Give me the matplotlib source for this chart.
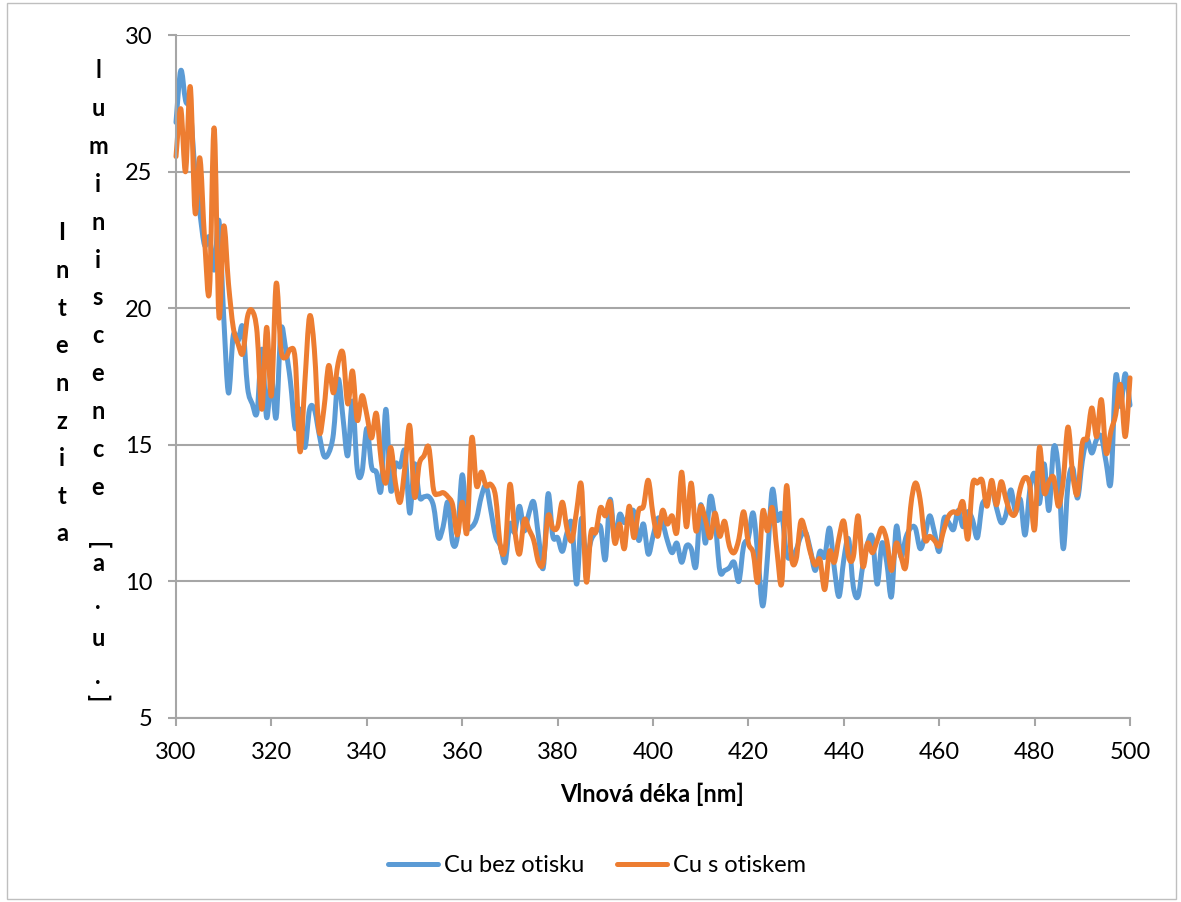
import numpy as np
import matplotlib
matplotlib.use("Agg")
import matplotlib.pyplot as plt
from matplotlib.path import Path
from matplotlib.patches import PathPatch, Rectangle
from matplotlib.lines import Line2D

# ---- data -------------------------------------------------------------
wavelength = list(range(300, 501))

cu_bez_otisku = [
    26.8, 28.7, 27.6, 27.2, 25.0, 23.5, 22.3, 22.6, 21.4, 23.2,   # 300-309
    19.7, 16.9, 19.0, 18.8, 19.3, 17.1, 16.5, 16.2, 18.5, 16.0,   # 310-319
    17.5, 16.0, 19.2, 18.5, 17.3, 15.6, 16.3, 14.9, 16.3, 16.3,   # 320-329
    15.4, 14.6, 14.7, 15.4, 17.4, 16.0, 14.6, 16.6, 14.1, 14.0,   # 330-339
    15.6, 14.2, 14.0, 13.35, 16.3, 13.35, 14.3, 14.2, 14.75, 12.5,  # 340-349
    14.3, 13.1, 13.1, 13.1, 12.75, 11.6, 12.0, 12.9, 11.4, 11.65,  # 350-359
    13.9, 12.1, 12.0, 12.3, 13.1, 13.5, 12.6, 11.65, 11.3, 10.7,   # 360-369
    12.1, 11.8, 12.75, 11.85, 12.5, 12.9, 11.65, 10.5, 13.2, 11.65,  # 370-379
    11.6, 11.1, 11.8, 12.1, 9.9, 12.3, 10.8, 11.5, 11.8, 12.0,     # 380-389
    10.8, 13.0, 11.5, 12.45, 12.15, 12.45, 12.55, 11.5, 12.1, 11.0,  # 390-399
    11.65, 12.3, 12.15, 11.5, 11.05, 11.4, 10.7, 11.3, 11.2, 10.55,  # 400-409
    12.8, 11.4, 13.1, 12.25, 10.4, 10.4, 10.5, 10.7, 10.0, 11.3,   # 410-419
    11.6, 12.5, 10.9, 9.1, 10.9, 13.35, 12.25, 12.45, 11.0, 10.9,  # 420-429
    11.15, 11.65, 11.8, 11.15, 10.4, 11.1, 10.9, 11.95, 10.5, 9.45,  # 430-439
    10.8, 11.55, 9.8, 9.45, 10.6, 11.4, 11.6, 9.9, 11.4, 10.7,     # 440-449
    9.45, 12.0, 10.9, 11.6, 11.95, 11.95, 11.2, 11.65, 12.4, 11.8,  # 450-459
    11.1, 12.3, 12.15, 11.9, 12.6, 12.0, 12.55, 12.25, 11.6, 12.8,  # 460-469
    13.0, 13.4, 12.7, 12.15, 12.45, 13.35, 12.55, 13.0, 11.7, 13.35,  # 470-479
    13.95, 12.85, 14.3, 12.6, 14.9, 14.1, 11.2, 13.55, 14.15, 13.05,  # 480-489
    14.4, 15.2, 14.7, 15.2, 15.3, 14.35, 13.65, 17.5, 16.4, 17.6,  # 490-499
    16.45,                                                         # 500
]

cu_s_otiskem = [
    25.55, 27.3, 25.0, 28.1, 23.5, 25.5, 22.5, 20.6, 26.6, 19.7,   # 300-309
    23.0, 20.9, 19.3, 18.7, 18.35, 19.7, 19.9, 19.1, 16.3, 19.3,   # 310-319
    16.8, 20.9, 18.5, 18.2, 18.5, 18.1, 14.75, 17.25, 19.7, 18.5,  # 320-329
    15.5, 16.3, 17.9, 16.9, 18.0, 18.35, 16.5, 17.7, 15.9, 16.8,   # 330-339
    16.1, 15.25, 16.15, 14.45, 13.6, 14.9, 13.6, 12.9, 14.2, 15.7,  # 340-349
    13.1, 14.3, 14.6, 14.9, 13.35, 13.2, 13.25, 13.1, 12.8, 11.7,  # 350-359
    12.9, 11.8, 15.25, 13.5, 14.0, 13.5, 13.55, 13.1, 11.3, 11.2,  # 360-369
    13.55, 11.9, 11.0, 12.25, 11.9, 11.5, 10.7, 10.7, 12.4, 11.95,  # 370-379
    12.0, 12.9, 11.9, 11.5, 12.6, 13.5, 10.0, 11.8, 11.8, 12.7,    # 380-389
    12.4, 12.9, 11.4, 12.1, 11.2, 12.75, 11.6, 12.6, 12.75, 13.7,  # 390-399
    12.45, 11.65, 12.6, 12.1, 12.4, 11.8, 14.0, 12.0, 13.6, 11.85,  # 400-409
    12.75, 12.25, 11.6, 12.5, 11.65, 12.2, 11.3, 11.05, 11.55, 12.55,  # 410-419
    11.4, 11.05, 10.0, 12.55, 11.85, 12.7, 11.1, 9.95, 13.5, 10.9,  # 420-429
    10.8, 12.2, 11.8, 11.05, 10.6, 10.8, 9.7, 11.1, 10.7, 11.6,    # 430-439
    12.2, 10.9, 10.9, 12.4, 10.55, 11.4, 11.05, 11.5, 11.95, 11.5,  # 440-449
    10.4, 11.4, 10.9, 10.55, 12.7, 13.6, 13.0, 11.55, 11.65, 11.5,  # 450-459
    11.3, 11.9, 12.4, 12.55, 12.5, 12.9, 11.55, 13.55, 13.6, 13.7,  # 460-469
    12.75, 13.7, 12.8, 13.65, 13.0, 12.5, 12.5, 13.4, 13.8, 13.5,  # 470-479
    11.9, 14.9, 13.25, 13.65, 13.8, 12.75, 13.7, 15.65, 13.9, 13.2,  # 480-489
    15.05, 15.25, 16.35, 15.3, 16.65, 14.7, 15.5, 16.1, 17.2, 15.3,  # 490-499
    17.45,                                                         # 500
]

series_names = ["Cu bez otisku", "Cu s otiskem"]
series_colors = ["#5B9BD5", "#ED7D31"]

x_ticks = [300, 320, 340, 360, 380, 400, 420, 440, 460, 480, 500]
y_ticks = [5, 10, 15, 20, 25, 30]
x_title = "Vlnová déka [nm]"
y_title_lines = ["Intenzita", "luminiscence[a.u.]"]

# ---- helpers ----------------------------------------------------------
def smoothed_path(x, y):
    """Cubic Bezier path through the points (Catmull-Rom style smoothing)."""
    pts = np.column_stack([x, y]).astype(float)
    n = len(pts)
    verts = [pts[0]]
    codes = [Path.MOVETO]
    for i in range(n - 1):
        p0 = pts[i - 1] if i > 0 else pts[i]
        p1 = pts[i]
        p2 = pts[i + 1]
        p3 = pts[i + 2] if i + 2 < n else pts[i + 1]
        verts += [p1 + (p2 - p0) / 6.0, p2 - (p3 - p1) / 6.0, p2]
        codes += [Path.CURVE4] * 3
    return Path(verts, codes)


W, H = 1181, 902
FONT = "Lato"
FS = 17
GRID = "#A6A6A6"

plt.rcParams["font.family"] = [FONT, "DejaVu Sans"]

fig = plt.figure(figsize=(W / 100, H / 100), dpi=100)
fig.patch.set_facecolor("white")

# chart-area border
fig.add_artist(Rectangle((7 / W, 1 - 899 / H), (1176 - 7) / W, (899 - 3) / H,
                         transform=fig.transFigure, fill=False,
                         edgecolor="#BFBFBF", linewidth=1.0))

left, right, top, bottom = 176, 1130, 35, 718
ax = fig.add_axes([left / W, 1 - bottom / H, (right - left) / W, (bottom - top) / H])

ax.set_xlim(300, 500)
ax.set_ylim(5, 30)
ax.set_xticks(x_ticks)
ax.set_yticks(y_ticks)
ax.set_xticklabels([str(t) for t in x_ticks])
ax.set_yticklabels([str(t) for t in y_ticks])

for side in ["top", "right"]:
    ax.spines[side].set_visible(False)
for side in ["left", "bottom"]:
    ax.spines[side].set_color(GRID)
    ax.spines[side].set_linewidth(1.5)

ax.yaxis.grid(True, color=GRID, linewidth=1.5)
ax.set_axisbelow(True)
ax.tick_params(axis="both", direction="out", length=6, width=1.5, color=GRID,
               labelsize=FS, labelcolor="black")
ax.tick_params(axis="x", pad=11)
ax.tick_params(axis="y", pad=11)

for vals, color in zip([cu_bez_otisku, cu_s_otiskem], series_colors):
    patch = PathPatch(smoothed_path(wavelength, vals), facecolor="none",
                      edgecolor=color, linewidth=3.6, capstyle="round",
                      joinstyle="round", clip_on=False)
    ax.add_patch(patch)

# x-axis title
fig.text(652 / W, 1 - 802 / H, x_title, ha="center", va="baseline",
         fontsize=FS, fontweight="bold")

# stacked y-axis title (one character per line, two columns)
col1_x, col2_x = 62, 98
for k, ch in enumerate(y_title_lines[0]):
    base = 240.5 + 37.6 * k
    fig.text(col1_x / W, 1 - base / H, ch, ha="center", va="baseline",
             fontsize=FS, fontweight="bold")
for k, ch in enumerate(y_title_lines[1]):
    if ch == "[":
        fig.text(col2_x / W, 1 - 546 / H, ch, ha="center", va="center",
                 rotation=-90, fontsize=FS, fontweight="bold")
    elif ch == "]":
        fig.text(col2_x / W, 1 - 698 / H, ch, ha="center", va="center",
                 rotation=-90, fontsize=FS, fontweight="bold")
    else:
        base = 78 + 37.9 * k
        fig.text(col2_x / W, 1 - base / H, ch, ha="center", va="baseline",
                 fontsize=FS, fontweight="bold")

# legend
handles = [Line2D([0], [0], color=c, linewidth=3.6, solid_capstyle="round")
           for c in series_colors]
fig.legend(handles, series_names, loc="center", ncol=2, frameon=False,
           bbox_to_anchor=(597 / W, 1 - 866 / H), fontsize=FS,
           handlelength=2.1, handletextpad=0.25, columnspacing=1.4)

fig.savefig("out.png", dpi=100, facecolor="white")
